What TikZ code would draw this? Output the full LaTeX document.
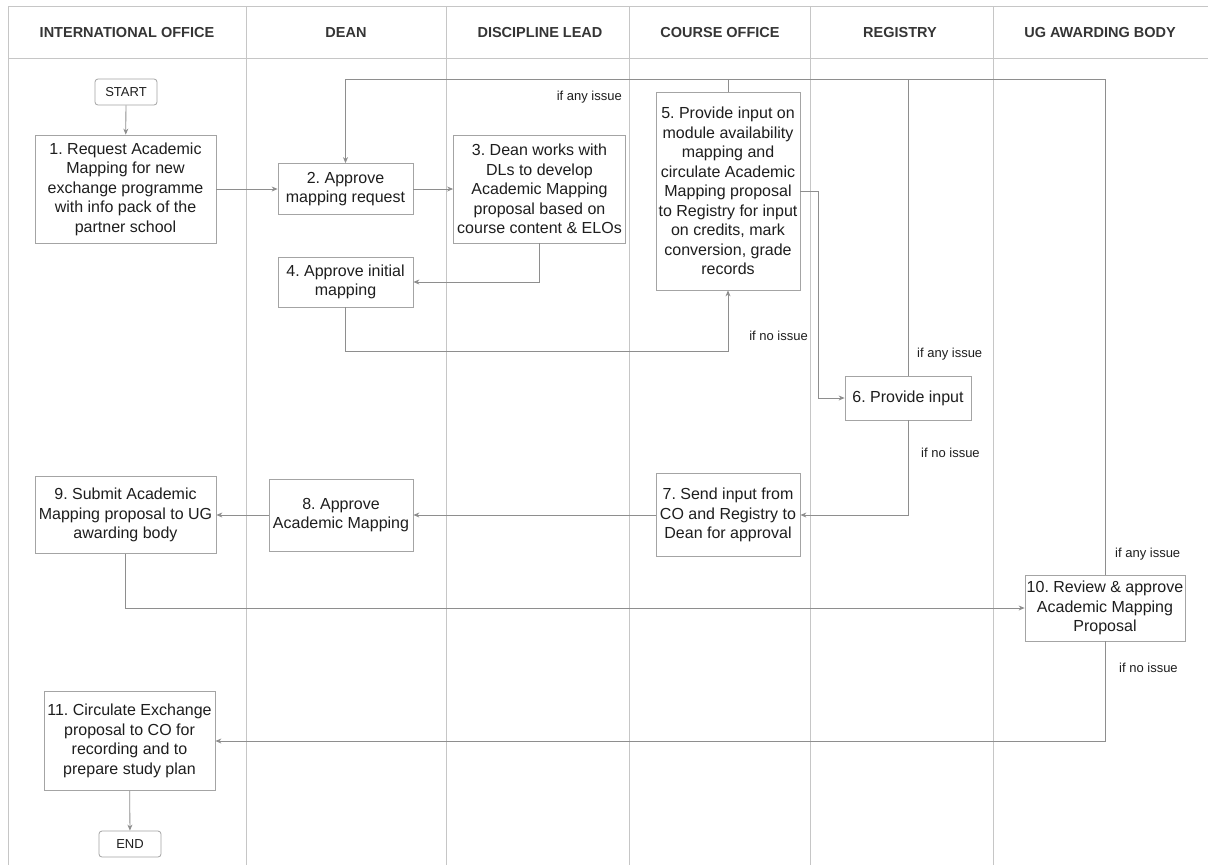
\documentclass[tikz,border=0pt]{standalone}
\usepackage{fontspec}
\setmainfont{Liberation Sans}
\usetikzlibrary{arrows.meta}
\frenchspacing
\definecolor{lanec}{HTML}{C6C6C6}
\definecolor{boxc}{HTML}{A4A4A4}
\definecolor{linec}{HTML}{8E8E8E}
\definecolor{txtc}{HTML}{1E1E1E}
\tikzset{
  lane/.style={draw=lanec, line width=0.8pt},
  hdr/.style={font=\fontsize{14.5}{17}\selectfont\bfseries, text=txtc!90!white},
  stepbox/.style={draw=boxc, line width=0.8pt, fill=white, align=center, inner sep=1pt,
    font=\fontsize{16}{19.5}\selectfont\frenchspacing, text=txtc},
  term/.style={draw=boxc, line width=0.8pt, fill=white, rounded corners=3pt,
    font=\fontsize{13}{15}\selectfont, text=txtc, minimum width=62pt, minimum height=26pt, inner sep=1pt},
  conn/.style={draw=linec, line width=0.8pt},
  arr/.style={conn, -{Stealth[length=6pt,width=5pt]}},
  lbl/.style={font=\fontsize{13}{15}\selectfont, text=txtc, inner sep=0pt}
}
\begin{document}
\begin{tikzpicture}[x=1pt,y=-1pt]
\useasboundingbox (0,0) rectangle (1210,865);
\fill[white] (0,0) rectangle (1210,865);
% swimlane frame
\draw[lane] (8,6) -- (1208,6);
\draw[lane] (8,58) -- (1208,58);
\foreach \x in {8,246,446,629,810,993} \draw[lane] (\x,6) -- (\x,865);
% headers
\node[hdr] (h1) at (127,33) {INTERNATIONAL OFFICE};
\node[hdr] (h2) at (346,33) {DEAN};
\node[hdr] (h3) at (540,33) {DISCIPLINE LEAD};
\node[hdr] (h4) at (720,33) {COURSE OFFICE};
\node[hdr] (h5) at (900,33) {REGISTRY};
\node[hdr] (h6) at (1100,33) {UG AWARDING BODY};
% nodes
\node[term] (start) at (126,92) {START};
\node[stepbox, minimum width=181pt, minimum height=108pt] (b1) at (125.5,189) {1. Request Academic\\Mapping for new\\exchange programme\\with info pack of the\\partner school};
\node[stepbox, minimum width=135pt, minimum height=51pt] (b2) at (345.5,189) {2. Approve\\mapping request};
\node[stepbox, minimum width=172pt, minimum height=108pt] (b3) at (539.5,189) {3. Dean works with\\DLs to develop\\Academic Mapping\\proposal based on\\course content \& ELOs};
\node[stepbox, minimum width=135pt, minimum height=50pt] (b4) at (345.5,282) {4. Approve initial\\mapping};
\node[stepbox, minimum width=144pt, minimum height=198pt] (b5) at (728,191) {5. Provide input on\\module availability\\mapping and\\circulate Academic\\Mapping proposal\\to Registry for input\\on credits, mark\\conversion, grade\\records};
\node[stepbox, minimum width=126pt, minimum height=44pt] (b6) at (908,398) {6. Provide input};
\node[stepbox, minimum width=144pt, minimum height=83pt] (b7) at (728,515) {7. Send input from\\CO and Registry to\\Dean for approval};
\node[stepbox, minimum width=144pt, minimum height=72pt] (b8) at (341,515) {8. Approve\\Academic Mapping};
\node[stepbox, minimum width=181pt, minimum height=77pt] (b9) at (125.5,515) {9. Submit Academic\\Mapping proposal to UG\\awarding body};
\node[stepbox, minimum width=160pt, minimum height=66pt] (b10) at (1105,608) {10. Review \& approve\\Academic Mapping\\Proposal};
\node[stepbox, minimum width=171pt, minimum height=99pt] (b11) at (129.5,741) {11. Circulate Exchange\\proposal to CO for\\recording and to\\prepare study plan};
\node[term] (end) at (130,844) {END};
% helper coordinates
\coordinate (topline) at (0,79);
% connectors
\draw[arr] (start) -- (b1);
\draw[arr] (b1) -- (b2);
\draw[arr] (b2) -- (b3);
\draw[arr] (b3.south) |- (b4.east);
\draw[arr] (b4.south) -- ++(0,44) -| (b5.south);
\draw[arr] (b5.east) -- ++(18,0) |- (b6.west);
\draw[arr] (b10.north) -- (b10.north |- topline) -| (b2.north);
\draw[conn] (b5.north) -- (b5.north |- topline);
\draw[conn] (b6.north) -- (b6.north |- topline);
\draw[arr] (b6.south) |- (b7.east);
\draw[arr] (b7) -- (b8);
\draw[arr] (b8) -- (b9);
\draw[arr] (b9.south) |- (b10.west);
\draw[arr] (b10.south) |- (b11.east);
\draw[arr] (b11) -- (end);
% labels
\node[lbl, anchor=east] (l1) at (622,97) {if any issue};
\node[lbl, anchor=east] (l2) at (808,336) {if no issue};
\node[lbl, anchor=west] (l3) at (917,354) {if any issue};
\node[lbl, anchor=west] (l4) at (921,453) {if no issue};
\node[lbl, anchor=west] (l5) at (1115,554) {if any issue};
\node[lbl, anchor=west] (l6) at (1119,668) {if no issue};
\end{tikzpicture}
\end{document}
